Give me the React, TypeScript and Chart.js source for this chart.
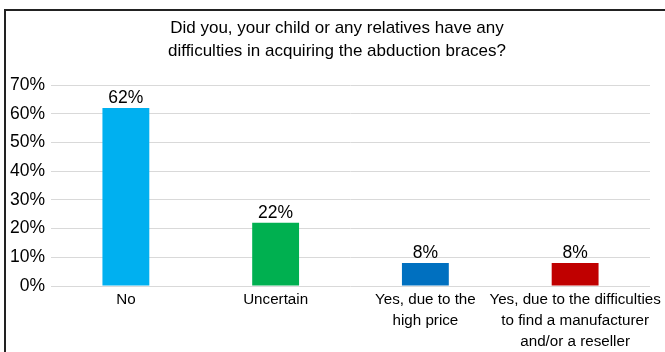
import React, { useEffect, useRef } from "react";
import { Chart, registerables } from "chart.js";

Chart.register(...registerables);

const titleLines = [
  "Did you, your child or any relatives have any",
  "difficulties in acquiring the abduction braces?",
];
const categories: string[][] = [
  ["No"],
  ["Uncertain"],
  ["Yes, due to the", "high price"],
  ["Yes, due to the difficulties", "to find a manufacturer", "and/or a reseller"],
];
const values = [62, 22, 8, 8];
const barColors = ["#00B0F0", "#00B050", "#0070C0", "#C00000"];
const yMin = 0;
const yMax = 70;
const yStep = 10;

const FONT = "'Liberation Sans', Arial, Helvetica, sans-serif";

const titlePlugin = {
  id: "customTitle",
  afterDraw(chart: any) {
    const ctx = chart.ctx;
    ctx.save();
    ctx.fillStyle = "#000";
    ctx.font = `17px ${FONT}`;
    ctx.textAlign = "center";
    ctx.textBaseline = "middle";
    titleLines.forEach((line, i) => {
      ctx.fillText(line, 337, 28 + i * 23);
    });
    ctx.restore();
  },
};

const valueLabelPlugin = {
  id: "valueLabels",
  afterDatasetsDraw(chart: any) {
    const ctx = chart.ctx;
    const meta = chart.getDatasetMeta(0);
    ctx.save();
    ctx.fillStyle = "#000";
    ctx.font = `17.5px ${FONT}`;
    ctx.textAlign = "center";
    ctx.textBaseline = "alphabetic";
    meta.data.forEach((bar: any, i: number) => {
      ctx.fillText(values[i] + "%", bar.x, bar.y - 5);
    });
    ctx.restore();
  },
};

export default function App() {
  const ref = useRef<HTMLCanvasElement>(null);
  useEffect(() => {
    document.body.style.margin = "0";
    const chart = new Chart(ref.current!, {
      type: "bar",
      data: {
        labels: categories,
        datasets: [
          {
            data: values,
            backgroundColor: barColors,
            borderWidth: 0,
            categoryPercentage: 1,
            barPercentage: 0.313,
          },
        ],
      },
      options: {
        animation: false,
        responsive: false,
        maintainAspectRatio: false,
        layout: { padding: { top: 85, right: 15, bottom: 0, left: 0 } },
        plugins: {
          legend: { display: false },
          title: { display: false },
          tooltip: { enabled: false },
        },
        scales: {
          x: {
            grid: { display: false, drawTicks: false },
            border: { display: false },
            ticks: {
              color: "#000",
              font: { family: FONT, size: 15.2, lineHeight: 1.38 },
              padding: 3,
              maxRotation: 0,
              autoSkip: false,
            },
            afterFit(scale: any) {
              scale.height = 66;
              scale.paddingLeft = 0;
              scale.paddingRight = 0;
            },
          },
          y: {
            min: yMin,
            max: yMax,
            grid: { color: "#D9D9D9", lineWidth: 1, drawTicks: false },
            border: { display: false },
            ticks: {
              stepSize: yStep,
              color: "#000",
              font: { family: FONT, size: 17.5 },
              padding: 6,
              callback: (v: any) => v + "%",
            },
            afterFit(scale: any) {
              scale.width = 51;
            },
          },
        },
      },
      plugins: [titlePlugin, valueLabelPlugin],
    });
    return () => chart.destroy();
  }, []);

  return (
    <div
      style={{
        position: "fixed",
        left: 0,
        top: 0,
        width: 665,
        height: 352,
        overflow: "hidden",
        background: "#fff",
      }}
    >
      <div
        style={{
          position: "absolute",
          left: 4,
          top: 9,
          width: 700,
          height: 400,
          borderLeft: "2px solid #222",
          borderTop: "2px solid #222",
        }}
      />
      <canvas
        ref={ref}
        width={665}
        height={352}
        style={{ position: "absolute", left: 0, top: 0, width: 665, height: 352 }}
      />
    </div>
  );
}
